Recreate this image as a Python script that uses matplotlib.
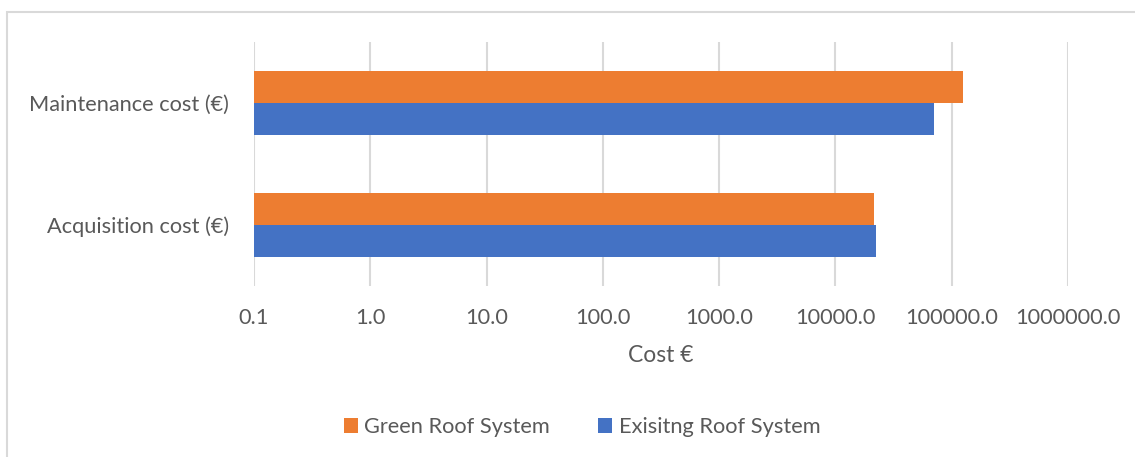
from matplotlib import pyplot as plt
from matplotlib.patches import Rectangle
from matplotlib.ticker import FixedLocator, FuncFormatter
import numpy as np

categories = ['Acquisition cost (€)', 'Maintenance cost (€)']
green_roof = [21500, 124000]
existing_roof = [22300, 71000]
series_names = ['Green Roof System', 'Exisitng Roof System']
tick_values = [0.1, 1, 10, 100, 1000, 10000, 100000, 1000000]

orange = '#ED7D31'
blue = '#4472C4'
text_grey = '#595959'

plt.rcParams['font.family'] = ['Lato', 'DejaVu Sans']

W, H = 1135, 457
fig = plt.figure(figsize=(W / 100, H / 100), dpi=100)
ax = fig.add_axes([254 / W, 1 - 286 / H, (1068 - 254) / W, (286 - 42) / H])

# chart area border (only top and left visible in the crop)
fig.patches.append(Rectangle((7 / W, -0.1), 1.2, 1 - 12 / H + 0.1,
                             transform=fig.transFigure, fill=False,
                             edgecolor='#d9d9d9', linewidth=1.5))

y = np.arange(len(categories))
h = 0.26
base = 0.1
ax.barh(y + h / 2, np.array(green_roof) - base, height=h, left=base,
        color=orange, label=series_names[0], zorder=3)
ax.barh(y - h / 2, np.array(existing_roof) - base, height=h, left=base,
        color=blue, label=series_names[1], zorder=3)

ax.set_xscale('log')
ax.set_xlim(0.1, 1000000)
ax.set_ylim(-0.5, 1.5)
ax.xaxis.set_major_locator(FixedLocator(tick_values))
ax.xaxis.set_minor_locator(FixedLocator([]))
ax.xaxis.set_major_formatter(FuncFormatter(lambda v, p: '%.1f' % v))
ax.set_yticks(y)
ax.set_yticklabels(categories)

ax.grid(axis='x', color='#d9d9d9', linewidth=1.5, zorder=0)
for s in ax.spines.values():
    s.set_visible(False)
ax.tick_params(axis='both', length=0, labelsize=15.7, labelcolor=text_grey)
ax.tick_params(axis='x', pad=16)
ax.tick_params(axis='y', pad=18)
ax.set_xlabel('Cost €', fontsize=16.5, color=text_grey, labelpad=12)

fig.legend(loc='center', bbox_to_anchor=(582 / W, 1 - 427 / H), ncol=2,
           frameon=False, fontsize=15.7, labelcolor=text_grey,
           handlelength=0.65, handleheight=0.65, handletextpad=0.3,
           columnspacing=2.2)

fig.savefig('out.png', dpi=100)
